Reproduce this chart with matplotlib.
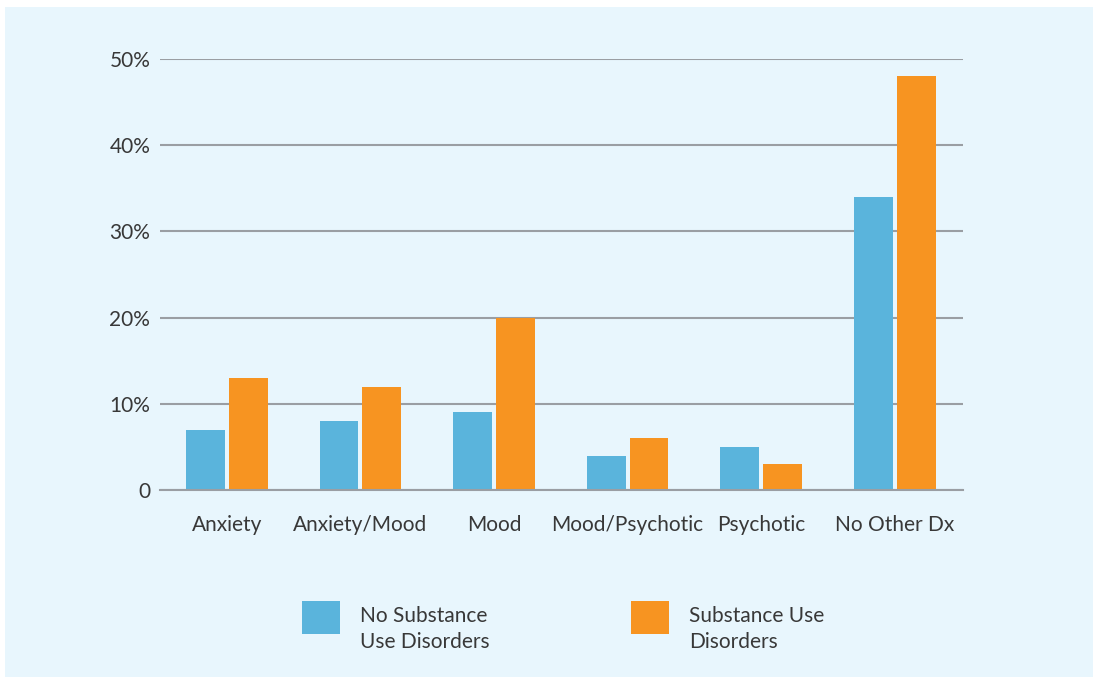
import matplotlib
matplotlib.use("Agg")
import matplotlib.pyplot as plt
from matplotlib.patches import Rectangle
import numpy as np

categories = ["Anxiety", "Anxiety/Mood", "Mood", "Mood/Psychotic", "Psychotic", "No Other Dx"]
no_sud = [7, 8, 9, 4, 5, 34]
sud = [13, 12, 20, 6, 3, 48]
series_labels = ["No Substance\nUse Disorders", "Substance Use\nDisorders"]
y_ticks = [0, 10, 20, 30, 40, 50]
y_tick_labels = ["0", "10%", "20%", "30%", "40%", "50%"]

BLUE = "#5AB4DC"
ORANGE = "#F79421"
PANEL = "#E8F6FD"
GRID = "#9A9EA3"
TEXT = "#383838"

plt.rcParams["font.family"] = ["Lato", "DejaVu Sans"]

W, H = 1093, 677
fig = plt.figure(figsize=(W / 100, H / 100), dpi=100, facecolor="white")

# light blue panel behind everything
fig.patches.append(Rectangle((5 / W, 0), 1 - 5 / W, 1 - 7 / H,
                             transform=fig.transFigure, facecolor=PANEL,
                             edgecolor="none", zorder=-10))

ax = fig.add_axes([160 / W, 1 - 490 / H, (963 - 160) / W, (490 - 59) / H])
ax.set_facecolor("none")

x = np.arange(len(categories))
bw = 0.29
off = 0.16
ax.bar(x - off, no_sud, width=bw, color=BLUE, zorder=3)
ax.bar(x + off, sud, width=bw, color=ORANGE, zorder=3)

ax.set_xlim(-0.5, len(categories) - 0.49)
ax.set_ylim(0, 50)
ax.set_yticks(y_ticks)
ax.set_yticklabels(y_tick_labels)
ax.set_xticks(x)
ax.set_xticklabels(categories)
ax.tick_params(axis="both", length=0, labelsize=15, colors=TEXT)
ax.tick_params(axis="y", pad=7)
ax.tick_params(axis="x", pad=18)
ax.yaxis.grid(True, color=GRID, linewidth=1.5, zorder=1)
ax.set_axisbelow(True)
for s in ax.spines.values():
    s.set_visible(False)
ax.axhline(0, color=GRID, linewidth=1.5, zorder=4, clip_on=False)

# legend drawn as swatches with two-line labels
legend_items = [(302, BLUE, series_labels[0]), (631, ORANGE, series_labels[1])]
for px, col, lab in legend_items:
    fig.patches.append(Rectangle((px / W, 1 - 634 / H), 38 / W, 33 / H,
                                 transform=fig.transFigure, facecolor=col,
                                 edgecolor="none", zorder=2))
    fig.text((px + 58) / W, 1 - 629 / H, lab, fontsize=15, color=TEXT,
             va="center", ha="left", linespacing=1.35)

fig.savefig("out.png", dpi=100, facecolor="white")
